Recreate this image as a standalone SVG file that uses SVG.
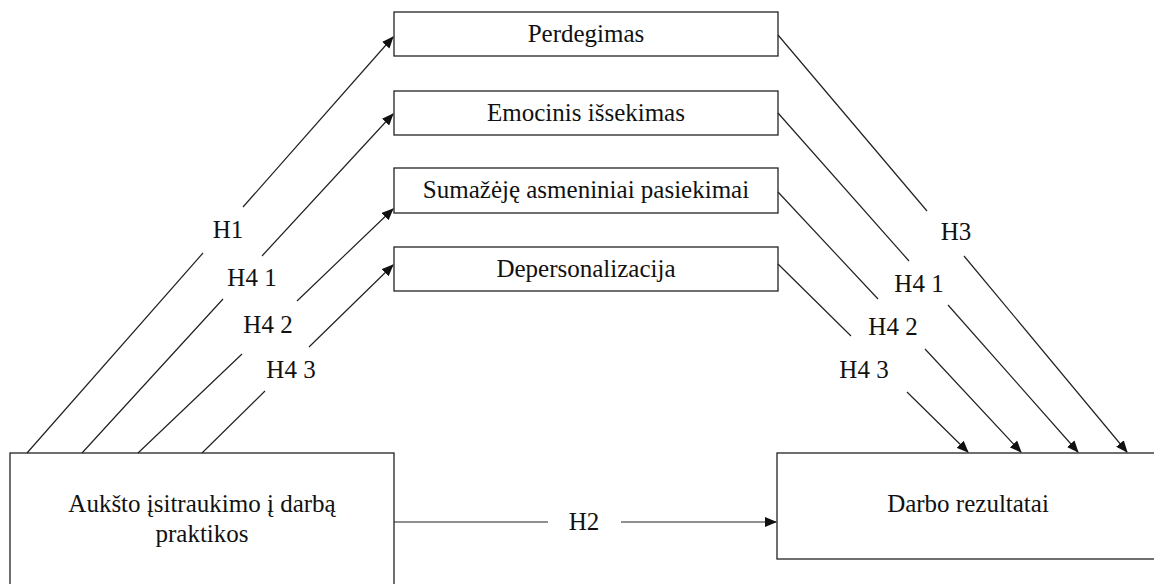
<svg xmlns="http://www.w3.org/2000/svg" width="1154" height="584" viewBox="0 0 1154 584">
<style>
.box{fill:#fff;stroke:#222;stroke-width:1.3}
.t{font-family:"Liberation Serif","Times New Roman",serif;font-size:25px;fill:#111;text-anchor:middle}
.c{fill:none;stroke:#222;stroke-width:1.2}
</style>
<defs>
<marker id="ah" markerWidth="12" markerHeight="10" refX="11" refY="5" orient="auto" markerUnits="userSpaceOnUse">
<path d="M0,0 L12,5 L0,10 Z" fill="#111"/>
</marker>
</defs>
<rect width="1154" height="584" fill="#fff"/>
<g id="n-perdegimas"><rect class="box" x="394" y="12" width="384" height="44"/><text class="t" x="586" y="42">Perdegimas</text></g>
<g id="n-emocinis"><rect class="box" x="394" y="91" width="384" height="44"/><text class="t" x="586" y="121">Emocinis išsekimas</text></g>
<g id="n-sumazeje"><rect class="box" x="394" y="168" width="384" height="45"/><text class="t" x="586" y="198">Sumažėję asmeniniai pasiekimai</text></g>
<g id="n-depers"><rect class="box" x="394" y="247" width="384" height="44"/><text class="t" x="586" y="277">Depersonalizacija</text></g>
<g id="n-auksto"><rect class="box" x="10" y="453" width="384" height="150"/><text class="t" x="202" y="512">Aukšto įsitraukimo į darbą</text><text class="t" x="202" y="542">praktikos</text></g>
<g id="n-darbo"><rect class="box" x="777" y="453" width="390" height="106"/><text class="t" x="968" y="512">Darbo rezultatai</text></g>
<g id="connectors">
<path class="c" d="M27,453 L203,253 M243,207 L393,37" marker-end="url(#ah)"/>
<path class="c" d="M82,453 L223,299 M262,256 L393,114" marker-end="url(#ah)"/>
<path class="c" d="M138,453 L242,354 M297,301 L393,209" marker-end="url(#ah)"/>
<path class="c" d="M202,453 L265,391 M309,347 L393,265" marker-end="url(#ah)"/>
<path class="c" d="M778,35 L927,211 M964,256 L1127,452" marker-end="url(#ah)"/>
<path class="c" d="M778,113 L909,261 M948,305 L1078,452" marker-end="url(#ah)"/>
<path class="c" d="M778,192 L878,299 M925,349 L1021,452" marker-end="url(#ah)"/>
<path class="c" d="M778,264 L851,336 M907,392 L968,452" marker-end="url(#ah)"/>
<path class="c" d="M394,522 L548,522 M621,522 L776,522" marker-end="url(#ah)"/>
<text class="t" x="228" y="238">H1</text>
<text class="t" x="252" y="286">H4 1</text>
<text class="t" x="268" y="333">H4 2</text>
<text class="t" x="291" y="378">H4 3</text>
<text class="t" x="956" y="240">H3</text>
<text class="t" x="919" y="292">H4 1</text>
<text class="t" x="893" y="335">H4 2</text>
<text class="t" x="864" y="378">H4 3</text>
<text class="t" x="584" y="530">H2</text>
</g>
</svg>
